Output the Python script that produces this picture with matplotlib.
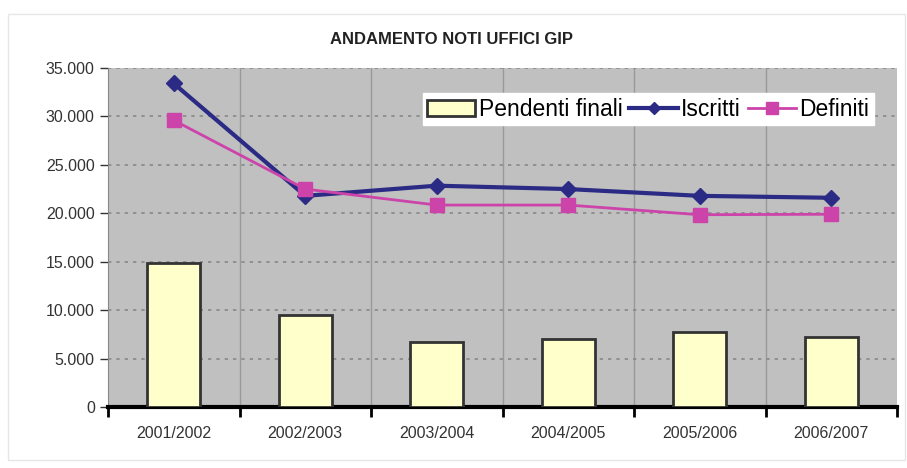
import matplotlib
matplotlib.use("Agg")
import matplotlib.pyplot as plt
from matplotlib.ticker import FuncFormatter, MultipleLocator
from matplotlib.patches import Rectangle

categories = ["2001/2002", "2002/2003", "2003/2004", "2004/2005", "2005/2006", "2006/2007"]
pendenti = [14900, 9550, 6750, 7050, 7750, 7250]
iscritti = [33400, 21800, 22850, 22500, 21800, 21600]
definiti = [29600, 22500, 20850, 20850, 19850, 19900]

plt.rcParams['font.family'] = ['Liberation Sans', 'DejaVu Sans']

fig = plt.figure(figsize=(9.07, 4.68), dpi=100)
fig.patch.set_facecolor("white")
fig.patches.append(Rectangle((8/907, 8/468), 897/907, 446/468, transform=fig.transFigure,
                             fill=False, edgecolor="#e6e6e6", linewidth=1))
ax = fig.add_axes([108/907, 61/468, 789/907, 339/468])
ax.set_facecolor("#c0c0c0")

x = list(range(len(categories)))
hb = ax.bar(x, pendenti, width=0.4, color="#ffffcc", edgecolor="#333333", linewidth=2,
            label="Pendenti finali", zorder=3)
hi, = ax.plot(x, iscritti, color="#2b2b85", linewidth=3, marker="D", markersize=8,
              label="Iscritti", zorder=4)
hd, = ax.plot(x, definiti, color="#cc44aa", linewidth=2, marker="s", markersize=10,
              label="Definiti", zorder=4)

ax.set_xlim(-0.5, 5.5)
ax.set_ylim(0, 35000)
ax.yaxis.set_major_locator(MultipleLocator(5000))
ax.yaxis.set_major_formatter(FuncFormatter(lambda v, p: "0" if v == 0 else f"{int(v):,}".replace(",", ".")))
ax.set_xticks(x)
ax.set_xticklabels(categories)
ax.set_xticks([i + 0.5 for i in range(-1, 6)], minor=True)
ax.tick_params(axis="x", which="major", length=0, pad=14, labelsize=11.5, colors="#333333")
ax.tick_params(axis="x", which="minor", length=7, width=2, color="black", direction="out")
ax.tick_params(axis="y", length=6, width=1, color="#333333", labelsize=11.5, labelcolor="#333333")

ax.grid(axis="y", linestyle=(0, (2, 3)), color="#888888", linewidth=1.2, zorder=1)
for b in [i + 0.5 for i in range(5)]:
    ax.axvline(b, color="#999999", linewidth=1, zorder=1)

for s in ["top", "right"]:
    ax.spines[s].set_visible(False)
ax.spines["left"].set_color("#888888")
ax.spines["bottom"].set_linewidth(3)
ax.spines["bottom"].set_color("black")

fig.text(452/907, 1 - 40/468, "ANDAMENTO NOTI UFFICI GIP", ha="center", va="center",
         fontsize=12, fontweight="bold", color="#222222")

leg = ax.legend([hb, hi, hd], ["Pendenti finali", "Iscritti", "Definiti"],
                loc="upper right", bbox_to_anchor=(0.985, 0.96), ncol=3, fontsize=16.5,
                frameon=True, fancybox=False, edgecolor="white", framealpha=1,
                handlelength=2.1, handletextpad=0.15, columnspacing=0.3, borderpad=0.2,
                markerscale=0.8)
leg.set_zorder(5)

fig.savefig("out.png", dpi=100)
